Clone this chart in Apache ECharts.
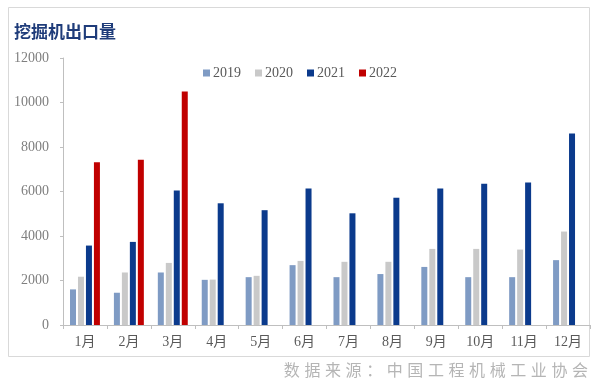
<!DOCTYPE html>
<html>
<head>
<meta charset="utf-8">
<script src="https://cdn.jsdelivr.net/npm/echarts@6/dist/echarts.min.js"></script>
<style>
html,body{margin:0;padding:0;background:#fff;}
#c{width:600px;height:387px;}
</style>
</head>
<body>
<div id="c"></div>
<script>
var months = ['1月','2月','3月','4月','5月','6月','7月','8月','9月','10月','11月','12月'];
var s2019 = [1600,1450,2360,2030,2150,2690,2150,2290,2610,2150,2150,2915];
var s2020 = [2170,2360,2790,2040,2210,2880,2840,2840,3420,3420,3390,4200];
var s2021 = [3570,3735,6050,5470,5160,6130,5020,5720,6140,6350,6410,8610];
var s2022 = [7320,7430,10500,null,null,null,null,null,null,null,null,null];
var seriesNames = ['2019','2020','2021','2022'];
var colors = ['#7f9bc4','#c9c9c9','#0b3a8c','#c00000'];

var serif = '"Liberation Serif","DejaVu Serif","Noto Sans CJK SC",serif';
var chart = echarts.init(document.getElementById('c'));
var data = [s2019, s2020, s2021, s2022];
var src = '数据来源：中国工程机械工业协会'.split('').join(' \u200a');
chart.setOption({
  animation: false,
  backgroundColor: '#fff',
  graphic: [
    {type:'rect', shape:{x:8.5,y:7.5,width:581,height:349}, style:{fill:'none',stroke:'#d9d9d9',lineWidth:1}},
    {type:'text', left:14, top:23, style:{text:'挖掘机出口量', fill:'#1f3c7a', font:'bold 17px "Noto Sans CJK SC"'}},
    {type:'text', right:12, top:362, style:{text:src, fill:'#b5b5b5', font:'16px "Noto Sans CJK SC"'}}
  ],
  legend: {
    top: 61, left: 'center',
    itemWidth: 7, itemHeight: 7, itemGap: 14,
    icon: 'rect',
    data: seriesNames,
    textStyle: {color:'#595959', fontSize:14, fontFamily: serif, padding:[0,0,0,-2]}
  },
  grid: {left:63, right:10, top:58, bottom:62},
  xAxis: {
    type:'category', data: months,
    axisLine:{lineStyle:{color:'#bfbfbf'}},
    axisTick:{show:true, length:4, lineStyle:{color:'#bfbfbf'}},
    axisLabel:{color:'#595959', fontSize:14, fontFamily: serif, margin:10}
  },
  yAxis: {
    type:'value', min:0, max:12000, interval:2000,
    axisLine:{show:true, lineStyle:{color:'#bfbfbf'}},
    axisTick:{show:true, length:3, lineStyle:{color:'#bfbfbf'}},
    splitLine:{show:false},
    axisLabel:{color:'#7f7f7f', fontSize:14, fontFamily: serif, margin:14, formatter:function(v){return String(v);}}
  },
  series: seriesNames.map(function(n,i){
    return {name:n, type:'bar', data:data[i], barWidth:6, barGap:'33%', itemStyle:{color:colors[i]}};
  })
});
</script>
</body>
</html>
